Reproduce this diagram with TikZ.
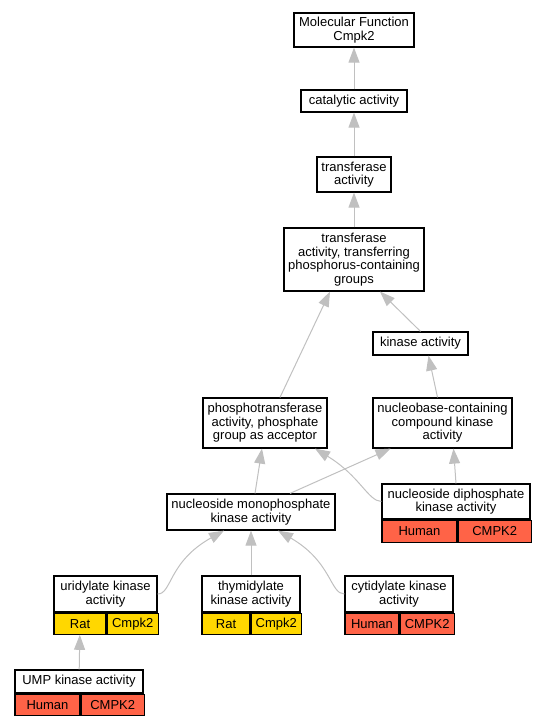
\documentclass[tikz,border=0pt]{standalone}
\usepackage{fontspec}
\setmainfont{Liberation Sans}
\usepackage{xcolor}
\definecolor{lightGray}{RGB}{192,192,192}
\definecolor{ratYellow}{RGB}{255,215,0}
\definecolor{humanRed}{RGB}{255,99,71}
\usetikzlibrary{arrows.meta, positioning}

\begin{document}
\begin{tikzpicture}[x=1pt, y=-1pt,
		font=\fontsize{13}{13.5}\selectfont,
		>={Triangle[length=15pt, width=11pt]},
		term/.style={draw, line width=1.2pt, fill=white, align=center, inner sep=0pt},
		cell/.style={draw, line width=1.2pt, inner sep=0pt, anchor=north west},
		isa/.style={draw=lightGray, line width=1pt, ->}]
			\useasboundingbox (0,0) rectangle (545,725);

			% GO terms
			\node[term, minimum width=120pt, minimum height=34pt] (mf) at (354,30) {Molecular Function\\Cmpk2};
			\node[term, minimum width=106pt, minimum height=22pt] (cat) at (354,101) {catalytic activity};
			\node[term, minimum width=74pt, minimum height=35pt] (tr) at (354,174.5) {transferase\\activity};
			\node[term, minimum width=140pt, minimum height=63pt] (tp) at (354,259.5) {transferase\\activity, transferring\\phosphorus-containing\\groups};
			\node[term, minimum width=95pt, minimum height=23pt] (ka) at (420.5,343.5) {kinase activity};
			\node[term, minimum width=124pt, minimum height=50pt] (pt) at (265,423) {phosphotransferase\\activity, phosphate\\group as acceptor};
			\node[term, minimum width=139pt, minimum height=50pt] (nb) at (442.5,423) {nucleobase-containing\\compound kinase\\activity};
			\node[term, minimum width=168pt, minimum height=36pt] (nm) at (251,512) {nucleoside monophosphate\\kinase activity};

			% Terms with annotated genes
			\node[term, minimum width=148pt, minimum height=35pt] (dp) at (456,501.5) {nucleoside diphosphate\\kinase activity};
			\node[cell, fill=humanRed, minimum width=75pt, minimum height=22pt] (dps) at (dp.south west) {Human};
			\node[cell, fill=humanRed, minimum width=73pt, minimum height=22pt] (dpg) at (dps.north east) {CMPK2};

			\node[term, minimum width=103pt, minimum height=36pt] (ur) at (105.5,594) {uridylate kinase\\activity};
			\node[cell, fill=ratYellow, minimum width=52pt, minimum height=21pt] (urs) at (ur.south west) {Rat};
			\node[cell, fill=ratYellow, minimum width=51pt, minimum height=21pt] (urg) at (urs.north east) {Cmpk2};

			\node[term, minimum width=98pt, minimum height=36pt] (th) at (251,594) {thymidylate\\kinase activity};
			\node[cell, fill=ratYellow, minimum width=48pt, minimum height=21pt] (ths) at (th.south west) {Rat};
			\node[cell, fill=ratYellow, minimum width=50pt, minimum height=21pt] (thg) at (ths.north east) {Cmpk2};

			\node[term, minimum width=108pt, minimum height=36pt] (cy) at (399,594) {cytidylate kinase\\activity};
			\node[cell, fill=humanRed, minimum width=54pt, minimum height=21pt] (cys) at (cy.south west) {Human};
			\node[cell, fill=humanRed, minimum width=54pt, minimum height=21pt] (cyg) at (cys.north east) {CMPK2};

			\node[term, minimum width=128pt, minimum height=23pt] (ump) at (79,681.5) {UMP kinase activity};
			\node[cell, fill=humanRed, minimum width=65pt, minimum height=21pt] (umps) at (ump.south west) {Human};
			\node[cell, fill=humanRed, minimum width=63pt, minimum height=21pt] (umpg) at (umps.north east) {CMPK2};

			% is-a links
			\draw[isa] (cat) -- (mf);
			\draw[isa] (tr) -- (cat);
			\draw[isa] (tp) -- (tr);
			\draw[isa] ([xshift=15pt]pt.north) -- ([xshift=-24pt]tp.south);
			\draw[isa] (ka.north) -- ([xshift=26pt]tp.south);
			\draw[isa] ([xshift=-5pt]nb.north) -- ([xshift=8pt]ka.south);
			\draw[isa] ([xshift=4pt]nm.north) -- ([xshift=-3pt]pt.south);
			\draw[isa] ([xshift=39pt]nm.north) -- ([xshift=-52pt]nb.south);
			\draw[isa] (dp.north) -- ([xshift=11pt]nb.south);
			\draw[isa] (dp.west) .. controls (368,501) and (360,476) .. ([xshift=50pt]pt.south);
			\draw[isa] (ur.east) .. controls (172,594) and (168,562) .. ([xshift=-27pt]nm.south);
			\draw[isa] (th) -- (nm);
			\draw[isa] (cy.west) .. controls (330,594) and (332,562) .. ([xshift=27pt]nm.south);
			\draw[isa] (ump) -- (urs);
		\end{tikzpicture}
\end{document}
